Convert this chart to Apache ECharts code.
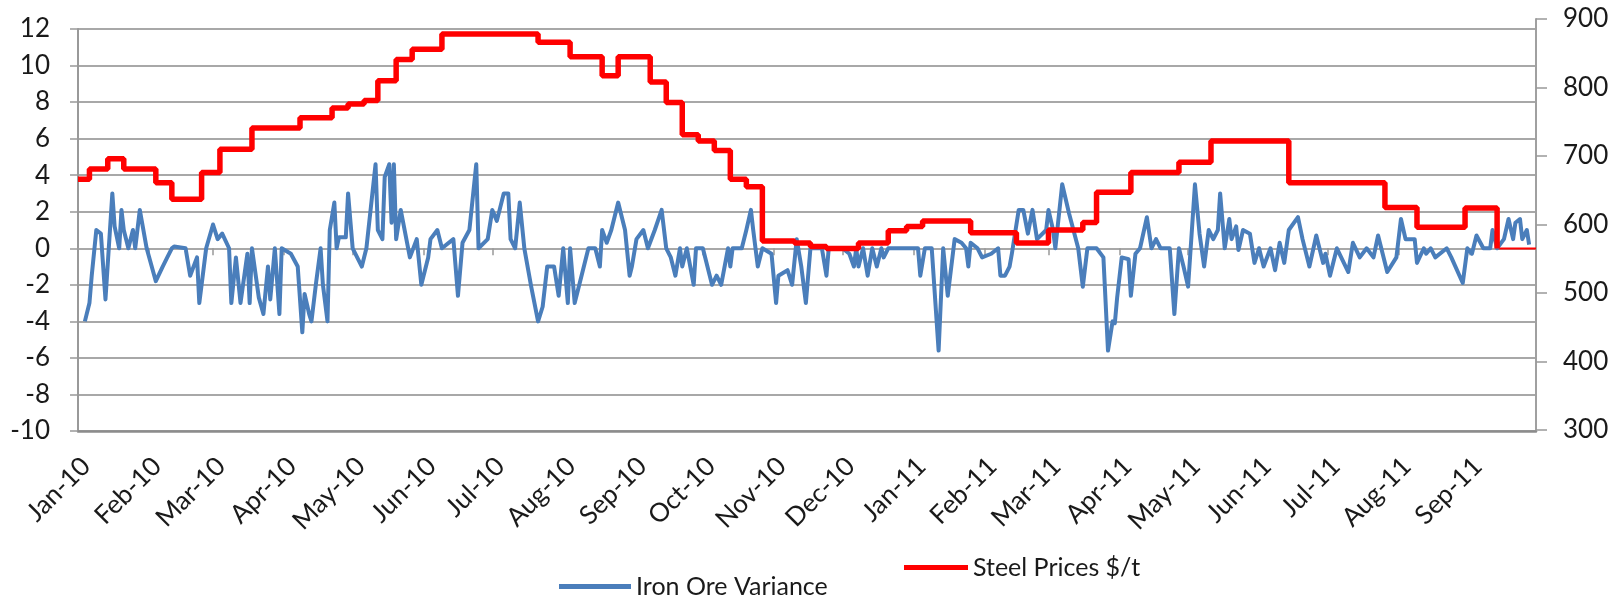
<!DOCTYPE html>
<html><head><meta charset="utf-8">
<script src="https://cdn.jsdelivr.net/npm/echarts@6/dist/echarts.min.js"></script>
<style>html,body{margin:0;padding:0;background:#fff}#c{width:1623px;height:600px}</style>
</head><body><div id="c"></div>
<script>
// ---- data ----
const startDate = '2010-01-01';
const dayCount = 638; // 2010-01-01 .. 2011-09-30
const monthLabels = ['Jan-10','Feb-10','Mar-10','Apr-10','May-10','Jun-10','Jul-10','Aug-10','Sep-10','Oct-10','Nov-10','Dec-10','Jan-11','Feb-11','Mar-11','Apr-11','May-11','Jun-11','Jul-11','Aug-11','Sep-11'];
// day offsets from 2010-01-01
const ironDays = [3,5,6,8,10,12,15,16,18,19,20,22,24,25,27,30,34,37,39,41,42,
47,49,52,53,55,56,59,61,63,66,67,69,71,74,75,76,79,81,83,84,86,88,89,93,96,98,99,101,102,104,106,107,109,110,112,113,114,117,118,120,124,126,128,130,131,133,134,136,137,138,139,141,
145,148,150,153,154,157,159,164,166,168,171,174,175,179,181,183,186,188,189,191,193,195,198,201,203,205,208,210,212,214,215,217,220,223,226,228,229,231,233,236,239,241,242,244,247,249,252,255,257,259,261,263,264,266,269,270,273,277,279,281,284,285,286,290,292,294,295,297,299,303,305,306,310,312,314,316,318,320,
322,325,327,328,334,337,339,340,341,343,345,347,349,351,352,354,367,368,370,373,376,378,380,383,386,388,389,390,393,395,399,402,403,405,407,408,411,413,415,417,419,423,424,426,427,430,433,437,439,441,445,448,450,452,453,454,456,459,460,462,464,467,469,471,473,477,479,481,483,485,488,490,492,494,496,498,499,501,503,504,506,507,509,512,514,516,518,521,523,525,527,529,533,535,538,541,544,545,547,550,555,557,560,563,566,568,570,572,576,578,580,584,585,588,589,591,593,598,600,605,607,609,611,614,617,618,620,623,625,627,628,630,631,633,634];
const ironValues = [-4.0,-3.0,-1.5,1.0,0.8,-2.8,3.0,1.2,0,2.1,1.0,0,1.0,0,2.1,0,-1.8,-1.0,-0.5,0,0.1,
0,-1.5,-0.5,-3.0,-1.0,0,1.3,0.5,0.8,0,-3.0,-0.5,-3.0,-0.3,-3.0,0,-2.7,-3.6,-1.0,-2.8,0,-3.6,0,-0.3,-1.0,-4.6,-2.5,-3.6,-4.0,-1.9,0,-2.0,-4.0,1.0,2.5,0,0.6,0.6,3.0,0,-1.0,0,2.3,4.6,1.0,0.5,3.9,4.6,1.4,4.6,0.5,2.1,
-0.5,0.5,-2.0,-0.5,0.5,1.0,0,0.5,-2.6,0.3,1.0,4.6,0,0.5,2.1,1.5,3.0,3.0,0.5,0,2.5,0,-2.1,-4.0,-3.2,-1.0,-1.0,-2.6,0,-3.0,0,-3.0,-1.5,0,0,-1.0,1.0,0.3,1.0,2.5,1.0,-1.5,-1.0,0.5,1.0,0,1.0,2.1,0,-0.5,-1.5,0,-1.0,0,-2.0,0,0,-2.0,-1.5,-2.0,0,-1.0,0,0,1.0,2.1,1.0,-1.0,0,-0.3,-3.0,-1.5,-1.2,-2.0,0.5,-1.0,-3.0,0,
0,0,-1.5,0,0,-0.3,-1.0,0,-1.0,0,-1.5,0,-1.0,0,-0.5,0,0,-1.5,0,0,-5.6,0,-2.6,0.5,0.3,0,-1.0,0.3,0,-0.5,-0.3,0,-1.5,-1.5,-1.0,-0.3,2.1,2.1,0.8,2.1,0.5,1.0,2.1,1.0,0,3.5,1.9,0,-2.1,0,0,-0.5,-5.6,-4.0,-4.1,-2.7,-0.5,-0.6,-2.6,-0.3,0,1.7,0,0.5,0,0,-3.6,0,-1.0,-2.1,3.5,0.8,-1.0,1.0,0.5,1.0,3.0,0,1.6,0.5,1.2,-0.1,1.0,0.8,-0.8,0,-1.0,0,-1.2,0.3,-0.8,1.0,1.7,0.5,-1.0,0.7,-0.8,-0.3,-1.5,0,-1.3,0.3,-0.5,0,-0.5,0.7,-0.3,-1.3,-0.5,1.6,0.5,0.5,-0.8,0,-0.3,0,-0.5,0,-0.5,-1.9,0,-0.3,0.7,0,0,1.0,0,0.5,1.6,0.5,1.4,1.6,0.5,1.0,0.2];
const steelDays = [0,5,13,20,34,41,54,62,76,97,111,118,125,131,139,146,159,201,215,229,236,250,257,264,271,278,285,292,299,313,320,327,341,354,362,369,390,410,424,439,445,460,481,495,529,571,585,606,620];
const steelValues = [666,681,696,681,661,637,676,710,741,756,770,776,781,810,841,856,878,866,845,817,845,808,778,731,722,708,666,655,576,573,568,565,573,591,597,605,588,573,592,603,647,676,691,722,661,625,596,624,565];
const steelTailDays = [620,637];
const steelTailValues = [565,565];

// ---- build ----
const categories = [];
const t0 = Date.parse(startDate + 'T00:00:00Z');
for (let i = 0; i < dayCount; i++) categories.push(new Date(t0 + i * 86400000).toISOString().slice(0, 10));
const labelAt = {};
let k = 0;
categories.forEach((c, i) => { if (c.slice(8) === '01') { if (k < monthLabels.length) labelAt[i] = monthLabels[k]; k++; } });
const isLabel = (i) => labelAt[i] !== undefined;

const FONT = 'Lato';
const TXT = '#1a1a1a';
const GRID = '#a8a8a8';

const chart = echarts.init(document.getElementById('c'), null, {renderer: 'canvas'});
chart.setOption({
  animation: false,
  backgroundColor: '#fff',
  textStyle: {fontFamily: FONT},
  grid: [
    {left: 78, right: 87, top: 29, bottom: 169, outerBoundsMode: 'none', containLabel: false},
    {left: 78, right: 87, top: 19, bottom: 170, outerBoundsMode: 'none', containLabel: false},
    {left: 86, right: 79, top: 29, bottom: 169, outerBoundsMode: 'none', containLabel: false}
  ],
  legend: [
    {data: ['Iron Ore Variance'], left: 559, top: 574, padding: 0, icon: 'rect', itemWidth: 72, itemHeight: 5, selectedMode: false,
     textStyle: {fontSize: 25, color: TXT, fontFamily: FONT}},
    {data: ['Steel Prices $/t'], left: 904, top: 555, padding: 0, icon: 'rect', itemWidth: 64, itemHeight: 5, selectedMode: false,
     textStyle: {fontSize: 25, color: TXT, fontFamily: FONT}}
  ],
  xAxis: [
    {gridIndex: 0, type: 'category', data: categories, boundaryGap: false, position: 'bottom',
     axisLine: {onZero: false, lineStyle: {color: '#8c8c8c', width: 2.5}},
     axisTick: {show: false}, axisLabel: {show: false}, splitLine: {show: false}},
    {gridIndex: 1, type: 'category', data: categories, boundaryGap: false, show: false},
    {gridIndex: 0, type: 'category', data: categories, boundaryGap: false, position: 'top',
     axisLine: {onZero: true, show: true, lineStyle: {color: GRID, width: 2}},
     axisTick: {show: true, inside: true, interval: (i) => isLabel(i), length: 7, lineStyle: {color: '#999', width: 1.5}},
     axisLabel: {show: false}, splitLine: {show: false}},
    {gridIndex: 2, type: 'category', data: categories, boundaryGap: false, position: 'bottom',
     axisLine: {show: false, onZero: false}, axisTick: {show: false}, splitLine: {show: false},
     axisLabel: {interval: (i) => isLabel(i), formatter: (v, i) => labelAt[i] || '', rotate: 45, margin: 31,
                 fontSize: 26, color: TXT, fontFamily: FONT}}
  ],
  yAxis: [
    {gridIndex: 0, type: 'value', min: -10, max: 12, interval: 2, position: 'left',
     axisLine: {show: true, lineStyle: {color: '#999', width: 2}},
     axisTick: {show: true, length: 8, lineStyle: {color: '#999', width: 1.5}},
     axisLabel: {margin: 28, fontSize: 26, color: TXT, fontFamily: FONT},
     splitLine: {show: true, lineStyle: {color: GRID, width: 2}}},
    {gridIndex: 1, type: 'value', min: 300, max: 900, interval: 100, position: 'right',
     axisLine: {show: true, lineStyle: {color: '#a0a0a0', width: 2}},
     axisTick: {show: true, length: 11, lineStyle: {color: '#999', width: 1.5}},
     axisLabel: {margin: 27, fontSize: 26, color: TXT, fontFamily: FONT},
     splitLine: {show: false}},
    {gridIndex: 2, type: 'value', min: -10, max: 12, interval: 2, show: false}
  ],
  series: [
    {name: 'Iron Ore Variance', type: 'line', xAxisIndex: 0, yAxisIndex: 0, z: 3,
     data: ironDays.map((d, i) => [d, ironValues[i]]),
     symbol: 'none', showSymbol: false,
     lineStyle: {color: '#4a7ebb', width: 4, join: 'round'}, itemStyle: {color: '#4a7ebb'}},
    {name: 'Steel Prices $/t', type: 'line', xAxisIndex: 1, yAxisIndex: 1, z: 4, step: 'end',
     data: steelDays.map((d, i) => [d, steelValues[i]]),
     symbol: 'none', showSymbol: false,
     lineStyle: {color: '#ff0000', width: 5.5}, itemStyle: {color: '#ff0000'}},
    {name: 'steel tail', type: 'line', xAxisIndex: 1, yAxisIndex: 1, z: 2,
     data: steelTailDays.map((d, i) => [d, steelTailValues[i]]),
     symbol: 'none', showSymbol: false,
     lineStyle: {color: '#ff0000', width: 2}, itemStyle: {color: '#ff0000'}}
  ]
});
</script></body></html>
